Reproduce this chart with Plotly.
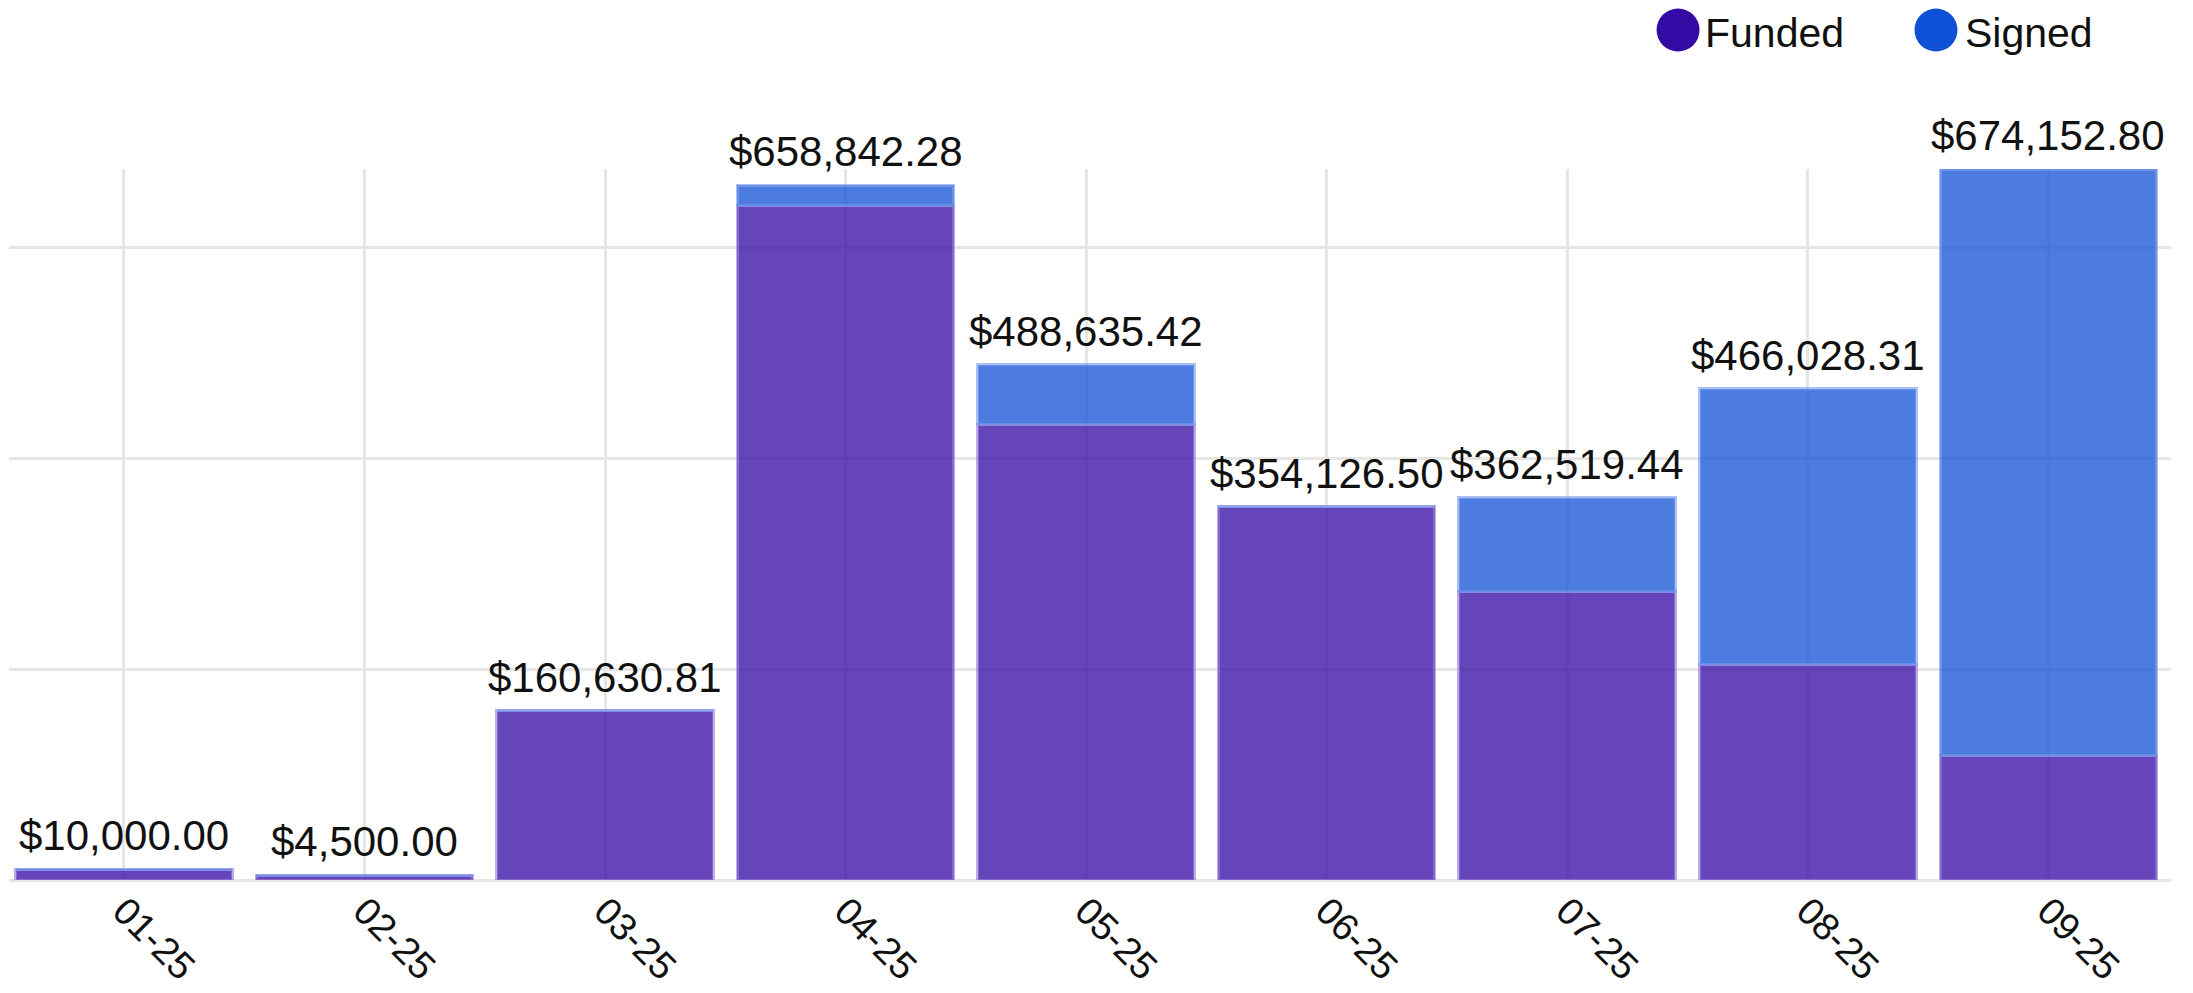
import plotly.graph_objects as go

months = ["01-25", "02-25", "03-25", "04-25", "05-25", "06-25", "07-25", "08-25", "09-25"]
totals = [10000.00, 4500.00, 160630.81, 658842.28, 488635.42, 354126.50, 362519.44, 466028.31, 674152.80]
funded = [10000.00, 4500.00, 160630.81, 639500.00, 432000.00, 354126.50, 273500.00, 204500.00, 118500.00]
signed = [round(t - f, 2) for t, f in zip(totals, funded)]
labels = ["${:,.2f}".format(t) for t in totals]

FONT = "Liberation Sans, Arial, sans-serif"

fig = go.Figure()
fig.add_trace(go.Bar(
    x=months, y=funded, name="Funded", showlegend=False,
    marker=dict(color="rgba(64,21,168,0.8)",
                line=dict(color="rgba(150,128,215,0.65)", width=3)),
))
fig.add_trace(go.Bar(
    x=months, y=signed, name="Signed", showlegend=False,
    marker=dict(color="rgba(32,91,216,0.8)",
                line=dict(color="rgba(125,158,235,0.65)", width=3)),
))

annotations = []
for m, t, lab in zip(months, totals, labels):
    annotations.append(dict(
        x=m, y=t, xref="x", yref="y", text=lab, showarrow=False,
        yanchor="bottom", xanchor="center", yshift=8,
        font=dict(family=FONT, size=42, color="#111111"),
    ))

# custom legend (circle markers + text)
legend_items = [("Funded", "#330AA3", 0.772, 0.7835), ("Signed", "#0E50D6", 0.8913, 0.9038)]
shapes = []
for name, col, cx, tx in legend_items:
    shapes.append(dict(
        type="circle", xref="paper", yref="paper",
        xsizemode="pixel", ysizemode="pixel",
        xanchor=cx, yanchor=1.1955,
        x0=-21.5, x1=21.5, y0=-21.5, y1=21.5,
        fillcolor=col, line=dict(width=0),
    ))
    annotations.append(dict(
        x=tx, y=1.1912, xref="paper", yref="paper", text=name, showarrow=False,
        xanchor="left", yanchor="middle",
        font=dict(family=FONT, size=41, color="#111111"),
    ))

# page body has an 8px margin, so the figure is 8px smaller and shifted
fig.update_layout(
    barmode="stack",
    bargap=0.1,
    width=2185, height=985,
    margin=dict(l=1, r=22, t=161, b=113, autoexpand=False),
    paper_bgcolor="white", plot_bgcolor="white",
    showlegend=False,
    annotations=annotations,
    shapes=shapes,
    font=dict(family=FONT, color="#111111"),
)
fig.update_xaxes(
    range=[-0.478, 8.51],
    automargin=False,
    showgrid=True, gridcolor="#E6E6E6", gridwidth=3,
    tickangle=45, tickfont=dict(family=FONT, size=38, color="#111111"),
    showline=False, ticks="",
)
fig.update_yaxes(
    range=[0, 674152.8],
    automargin=False,
    tick0=0, dtick=200000,
    showgrid=True, gridcolor="#E6E6E6", gridwidth=3,
    zeroline=True, zerolinecolor="#E6E6E6", zerolinewidth=3,
    showticklabels=False, ticks="",
)

fig.write_html("out.html")
